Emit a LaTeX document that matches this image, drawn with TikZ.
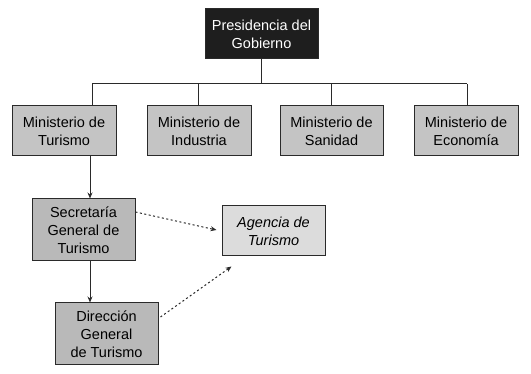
\documentclass[tikz,border=0pt]{standalone}
\usepackage{fontspec}
\setmainfont{Liberation Sans}
\usetikzlibrary{arrows.meta}
\definecolor{boxgray}{HTML}{C4C4C4}
\definecolor{darkgray2}{HTML}{B9B9B9}
\definecolor{lightgray2}{HTML}{DCDCDC}
\definecolor{presfill}{HTML}{1E1E1E}
\definecolor{linecol}{HTML}{2A2A2A}
\begin{document}
\begin{tikzpicture}[x=1pt,y=-1pt,
  every node/.style={font=\fontsize{14.5}{18}\selectfont, align=center, inner sep=0pt},
  box/.style={draw=linecol, line width=1pt, fill=boxgray, minimum width=104pt, minimum height=50pt},
  tallbox/.style={box, fill=darkgray2, minimum width=103pt, minimum height=62pt},
  presbox/.style={box, fill=presfill, text=white, minimum width=113pt},
  agbox/.style={box, fill=lightgray2, minimum width=103pt, font=\fontsize{14.5}{18}\selectfont\itshape},
  conn/.style={draw=linecol, line width=1pt},
  arr/.style={conn, -{Stealth[length=6pt,width=5pt]}},
  dotarr/.style={draw=linecol, line width=1pt, dash pattern=on 2pt off 2.5pt, -{Stealth[length=6pt,width=5pt]}}
]
\useasboundingbox (0,0) rectangle (531,374);
\node[presbox] (pres) at (261.5,34) {Presidencia del\\Gobierno};
\node[box] (mtur) at (64,131) {Ministerio de\\Turismo};
\node[box] (mind) at (199,131) {Ministerio de\\Industria};
\node[box, minimum width=103pt] (msan) at (331.5,131) {Ministerio de\\Sanidad};
\node[box] (meco) at (466,131) {Ministerio de\\Economía};
\node[tallbox] (sec) at (83.5,230) {Secretaría\\General de\\Turismo};
\node[agbox] (ag) at (273.5,231) {Agencia de\\Turismo};
\node[tallbox] (dir) at (106.5,334) {Dirección\\General\\de Turismo};

\coordinate (tj) at (92,84);
\coordinate (ej) at (467,84);
\coordinate (ij) at (198,84);
\coordinate (sj) at (331,84);
\coordinate (ax) at (90,0);

\draw[conn] (pres.south) -- (pres.south |- tj);
\draw[conn] (tj) -- (ej);
\draw[conn] (tj) -- (tj |- mtur.north);
\draw[conn] (ij) -- (ij |- mind.north);
\draw[conn] (sj) -- (sj |- msan.north);
\draw[conn] (ej) -- (ej |- meco.north);

\draw[arr] (mtur.south -| ax) -- (sec.north -| ax);
\draw[arr] (sec.south -| ax) -- (dir.north -| ax);

\draw[dotarr] ([yshift=18pt]sec.east) -- ([xshift=-5pt,yshift=1pt]ag.west);
\draw[dotarr] ([shift={(2pt,17pt)}]dir.east) -- ([shift={(10pt,-10pt)}]ag.south west);
\end{tikzpicture}
\end{document}
